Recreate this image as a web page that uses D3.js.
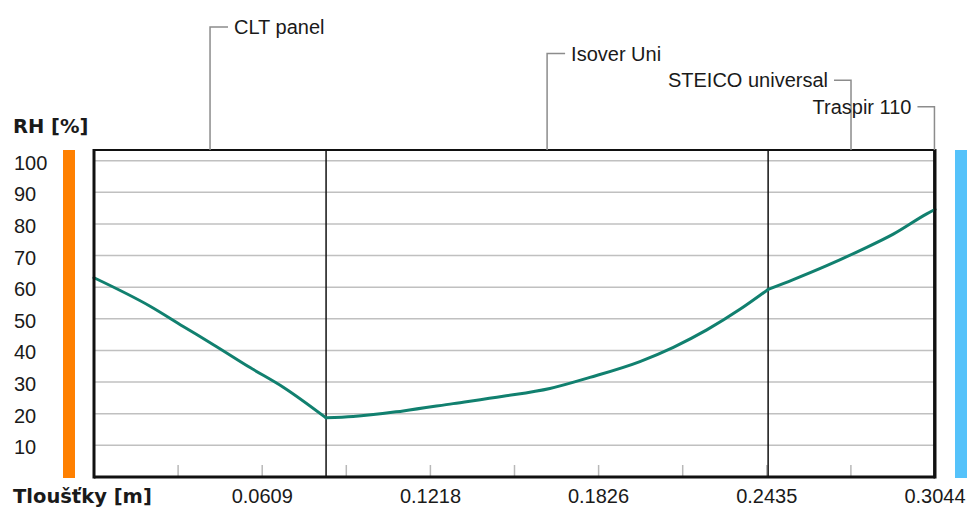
<!DOCTYPE html>
<html>
<head>
<meta charset="utf-8">
<script src="https://cdn.jsdelivr.net/npm/d3@7"></script>
<style>
  html, body { margin: 0; padding: 0; background: #fff; }
  svg { display: block; }
</style>
</head>
<body>
<svg id="chart" width="972" height="508"></svg>
<script>
// ---- data ----
const layerNames = ["CLT panel", "Isover Uni", "STEICO universal", "Traspir 110"];
const layerThickness = [0.084, 0.16, 0.06, 0.0004];   // m
const totalThickness = 0.3044;
const xTickValues = [0.0609, 0.1218, 0.1826, 0.2435, 0.3044];
const xTickLabels = ["0.0609", "0.1218", "0.1826", "0.2435", "0.3044"];
const yTickValues = [10, 20, 30, 40, 50, 60, 70, 80, 90, 100];
const rhPosition = [0, 0.0203, 0.0323, 0.0444, 0.0565, 0.0685, 0.084, 0.0938, 0.1119, 0.1300, 0.1481, 0.1650, 0.1795, 0.1976, 0.2097, 0.2218, 0.2338, 0.244, 0.2531, 0.2652, 0.2772, 0.2893, 0.3014, 0.3044];
const rhValues   = [63.0, 54.0, 47.6, 41.2, 34.6, 28.4, 18.7, 19.1, 20.9, 23.2, 25.5, 28.0, 31.5, 36.5, 41.0, 46.5, 53.0, 59.3, 62.4, 66.8, 71.6, 76.8, 83.2, 84.6];

// ---- layout ----
const svg = d3.select("#chart");
const pLeft = 94, pRight = 935, pTop = 150, pBottom = 477;
const x = d3.scaleLinear().domain([0, totalThickness]).range([pLeft, pRight]);
const y = d3.scaleLinear().domain([0, 100]).range([pBottom, 160.7]);
const regFont = "'Liberation Sans', Arial, sans-serif";
const boldFont = "'DejaVu Sans', sans-serif";
const textCol = "#1a1a1a";

// side bars
svg.append("rect").attr("x", 63).attr("y", pTop).attr("width", 12).attr("height", pBottom - pTop + 1).attr("fill", "#ff8000");
svg.append("rect").attr("x", 955).attr("y", pTop).attr("width", 12).attr("height", pBottom - pTop + 1).attr("fill", "#55c2fa");

// gridlines
svg.append("g").selectAll("line").data(yTickValues).join("line")
  .attr("x1", pLeft).attr("x2", pRight)
  .attr("y1", d => y(d)).attr("y2", d => y(d))
  .attr("stroke", "#c0c0c0").attr("stroke-width", 1.5);

// minor ticks at bottom
const minorTicks = d3.range(1, 10).map(i => i * totalThickness / 10);
svg.append("g").selectAll("line").data(minorTicks).join("line")
  .attr("x1", d => x(d)).attr("x2", d => x(d))
  .attr("y1", pBottom - 12).attr("y2", pBottom)
  .attr("stroke", "#b8b8b8").attr("stroke-width", 1.5);

// layer boundaries
const bounds = d3.cumsum(layerThickness).slice(0, -1);
svg.append("g").selectAll("line").data(bounds).join("line")
  .attr("x1", d => x(d)).attr("x2", d => x(d))
  .attr("y1", pTop).attr("y2", pBottom)
  .attr("stroke", "#111").attr("stroke-width", 1.5);

// RH line, smoothed within each layer
const pts = rhPosition.map((p, i) => [p, rhValues[i]]);
const edges = [0, ...bounds.slice(0, 2), totalThickness];
const eps = 1e-9;
const segs = d3.range(edges.length - 1).map(k =>
  pts.filter(d => d[0] >= edges[k] - eps && d[0] <= edges[k + 1] + eps));
const line = d3.line().x(d => x(d[0])).y(d => y(d[1])).curve(d3.curveMonotoneX);
svg.append("g").selectAll("path").data(segs).join("path")
  .attr("fill", "none").attr("stroke", "#11806f").attr("stroke-width", 3)
  .attr("stroke-linejoin", "round").attr("stroke-linecap", "round")
  .attr("d", line);

// frame
svg.append("line").attr("x1", pLeft).attr("x2", pRight).attr("y1", pTop).attr("y2", pTop).attr("stroke", "#111").attr("stroke-width", 2);
svg.append("line").attr("x1", pLeft).attr("x2", pRight).attr("y1", pBottom).attr("y2", pBottom).attr("stroke", "#111").attr("stroke-width", 3);
svg.append("line").attr("x1", pLeft).attr("x2", pLeft).attr("y1", pTop - 1).attr("y2", pBottom + 1.5).attr("stroke", "#111").attr("stroke-width", 3);
svg.append("line").attr("x1", pRight).attr("x2", pRight).attr("y1", pTop - 1).attr("y2", pBottom + 1.5).attr("stroke", "#111").attr("stroke-width", 3);

// layer labels with leaders
const starts = [0, ...bounds];
layerNames.forEach((name, i) => {
  const mid = x(starts[i] + layerThickness[i] / 2);
  const ly = 27 + i * 26.6;
  const onRight = i < 2;
  const hx = onRight ? mid + 18 : mid - 17;
  svg.append("path")
    .attr("d", `M${mid},${pTop} V${ly} H${hx}`)
    .attr("fill", "none").attr("stroke", "#8c8c8c").attr("stroke-width", 1.5);
  svg.append("text")
    .attr("x", onRight ? hx + 6 : hx - 6).attr("y", ly)
    .attr("dy", "0.35em")
    .attr("text-anchor", onRight ? "start" : "end")
    .attr("font-family", regFont).attr("font-size", 20).attr("fill", textCol)
    .text(name);
});

// y tick labels
svg.append("g").selectAll("text").data(yTickValues).join("text")
  .attr("x", 14).attr("y", d => y(d) + 2).attr("dy", "0.35em")
  .attr("font-family", regFont).attr("font-size", 20).attr("fill", textCol)
  .text(d => d);

// x tick labels
svg.append("g").selectAll("text").data(xTickValues).join("text")
  .attr("x", d => x(d)).attr("y", 496).attr("dy", "0.35em")
  .attr("text-anchor", "middle")
  .attr("font-family", regFont).attr("font-size", 20).attr("fill", textCol)
  .text((d, i) => xTickLabels[i]);

// axis titles
svg.append("text").attr("x", 13).attr("y", 126).attr("dy", "0.35em")
  .attr("font-family", boldFont).attr("font-weight", "bold").attr("font-size", 19.5).attr("fill", textCol)
  .text("RH [%]");
svg.append("text").attr("x", 13).attr("y", 496).attr("dy", "0.35em")
  .attr("font-family", boldFont).attr("font-weight", "bold").attr("font-size", 19.5).attr("fill", textCol)
  .text("Tloušťky [m]");
</script>
</body>
</html>
